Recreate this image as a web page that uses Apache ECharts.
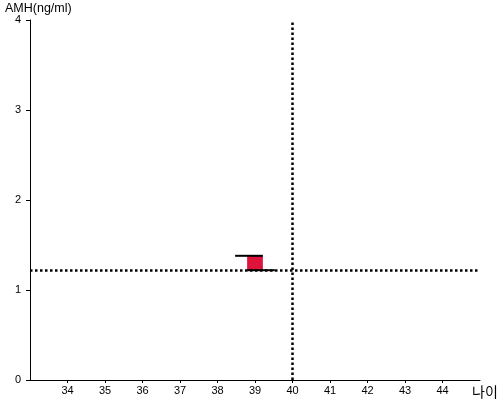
<!DOCTYPE html>
<html><head><meta charset="utf-8">
<script src="https://cdn.jsdelivr.net/npm/echarts@6/dist/echarts.min.js"></script>
<style>html,body{margin:0;padding:0;background:#fff}#c{width:500px;height:400px}</style>
</head><body><div id="c"></div>
<script>
const xAxisName = '나이';
const yAxisName = 'AMH(ng/ml)';
const xRange = [33, 45];
const yRange = [0, 4];
const refAge = 40;
const refAmh = 1.22;
const ages = [39];
const amhLow = [1.22];
const amhHigh = [1.38];

const font = '"Liberation Sans", Arial, sans-serif';
const chart = echarts.init(document.getElementById('c'));
chart.setOption({
  animation: false,
  grid: { left: 30, right: 20, top: 20, bottom: 20, containLabel: false, outerBoundsMode: 'none' },
  xAxis: {
    type: 'value', min: xRange[0], max: xRange[1], interval: 1,
    name: xAxisName, nameLocation: 'end', nameGap: -8,
    nameTextStyle: { color: '#000', fontSize: 14, fontFamily: '"Noto Sans CJK KR", sans-serif', align: 'left', verticalAlign: 'top', padding: [5, 0, 0, 0] },
    axisLine: { show: true, onZero: false, lineStyle: { color: '#000', width: 1 } },
    axisTick: { show: true, length: 3, lineStyle: { color: '#000' } },
    axisLabel: { color: '#000', fontSize: 11, fontFamily: font, margin: 5, showMinLabel: false, showMaxLabel: false },
    splitLine: { show: false }
  },
  yAxis: {
    type: 'value', min: yRange[0], max: yRange[1], interval: 1,
    name: yAxisName, nameLocation: 'end', nameGap: 4,
    nameTextStyle: { color: '#000', fontSize: 12.5, fontFamily: font, align: 'left', padding: [0, 0, 0, -25] },
    axisLine: { show: true, lineStyle: { color: '#000', width: 1 } },
    axisTick: { show: true, length: 4, lineStyle: { color: '#000' } },
    axisLabel: { color: '#000', fontSize: 11, fontFamily: font, margin: 9 },
    splitLine: { show: false }
  },
  series: [{
    type: 'custom',
    data: ages.map((a, i) => [a, amhLow[i], amhHigh[i]]),
    renderItem: function (params, api) {
      const x = api.value(0);
      const lo = api.coord([x, api.value(1)]);
      const hi = api.coord([x, api.value(2)]);
      const ppu = api.size([1, 0])[0];
      const hw = 0.21 * ppu;
      const ext = 0.32 * ppu;
      return {
        type: 'group',
        children: [
          { type: 'rect', shape: { x: lo[0] - hw, y: hi[1], width: hw * 2, height: lo[1] - hi[1] }, style: { fill: '#dc143c' } },
          { type: 'line', shape: { x1: lo[0] - hw - ext, y1: hi[1], x2: lo[0] + hw, y2: hi[1] }, style: { stroke: '#000', lineWidth: 2 } },
          { type: 'line', shape: { x1: lo[0] - hw, y1: lo[1], x2: lo[0] + hw + ext, y2: lo[1] }, style: { stroke: '#000', lineWidth: 2 } }
        ]
      };
    },
    markLine: {
      silent: true, symbol: 'none', label: { show: false },
      lineStyle: { color: '#000', width: 2.5, type: [2.5, 2.5] },
      data: [{ xAxis: refAge }, { yAxis: refAmh }]
    }
  }]
});
</script></body></html>
